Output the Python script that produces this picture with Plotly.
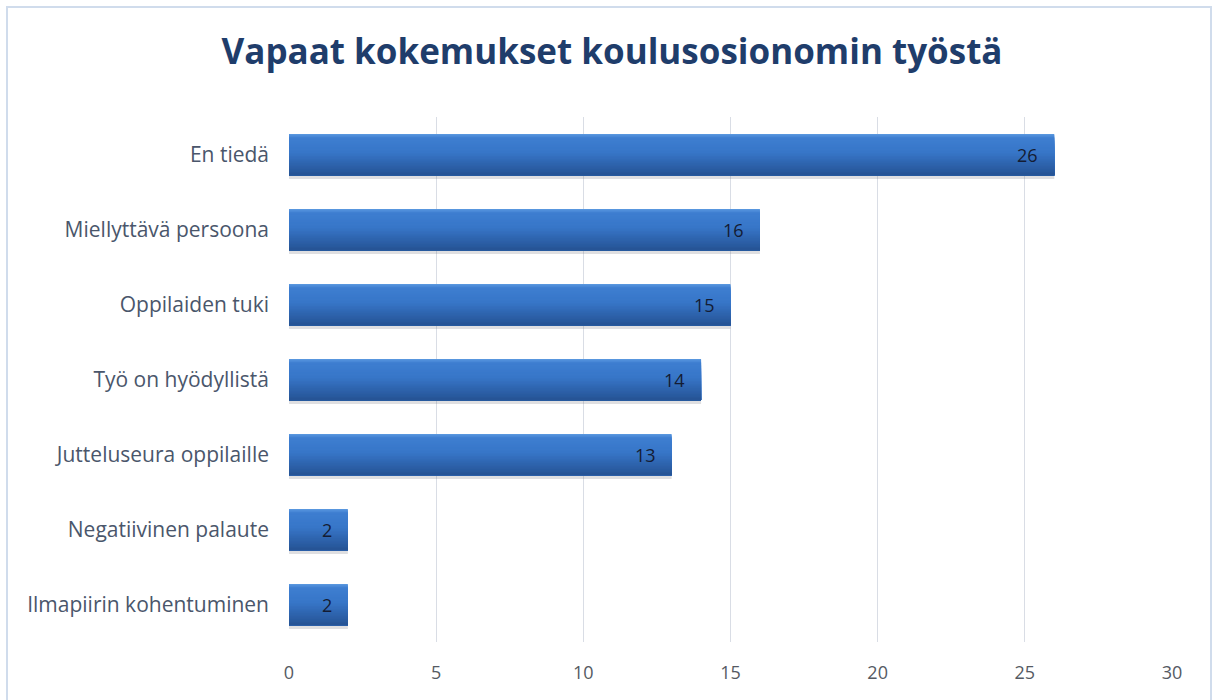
import plotly.graph_objects as go

categories = ["En tiedä", "Miellyttävä persoona", "Oppilaiden tuki", "Työ on hyödyllistä",
              "Jutteluseura oppilaille", "Negatiivinen palaute", "Ilmapiirin kohentuminen"]
values = [26, 16, 15, 14, 13, 2, 2]
title_text = "Vapaat kokemukset koulusosionomin työstä"
x_ticks = [0, 5, 10, 15, 20, 25, 30]

W, H = 1215, 700
L, R, T, B = 289, 43, 117, 58

fig = go.Figure()

bar_w = 0.55
# soft shadow under the bars
fig.add_trace(go.Bar(y=categories, x=values, orientation="h", width=bar_w, offset=-bar_w / 2 + 0.05,
                     marker=dict(color="rgba(110,110,120,0.22)", line=dict(width=0)),
                     hoverinfo="skip", showlegend=False))

# gradient made of overlapping strips (each covers to the bar's bottom edge)
stops = [(0.0, (88, 150, 222)), (0.08, (62, 126, 208)), (0.45, (55, 118, 200)), (1.0, (38, 84, 150))]


def grad(t):
    for (t0, c0), (t1, c1) in zip(stops[:-1], stops[1:]):
        if t <= t1:
            f = (t - t0) / (t1 - t0) if t1 > t0 else 0
            return tuple(int(round(c0[k] + (c1[k] - c0[k]) * f)) for k in range(3))
    return stops[-1][1]


n = 28
sw = bar_w / n
for i in range(n):
    c = grad(i / (n - 1))
    fig.add_trace(go.Bar(y=categories, x=values, orientation="h", width=bar_w - i * sw,
                         offset=-bar_w / 2 + i * sw,
                         marker=dict(color="rgb(%d,%d,%d)" % c, line=dict(width=0)),
                         hoverinfo="skip", showlegend=False))

# value labels placed at the end of each bar
for cat, v in zip(categories, values):
    fig.add_annotation(x=v, y=cat, xref="x", yref="y", text=str(v), showarrow=False,
                       xanchor="right", yanchor="middle", xshift=-14,
                       font=dict(family="Open Sans", size=18, color="#141c33"))

fig.update_layout(
    width=W, height=H,
    barmode="overlay",
    paper_bgcolor="white", plot_bgcolor="white",
    margin=dict(l=L, r=R, t=T, b=B, autoexpand=False),
    title=dict(text="<b>" + title_text + "</b>", x=612 / W, xref="container", xanchor="center",
               y=1 - 52 / H, yanchor="middle", yref="container", automargin=False,
               font=dict(family="Open Sans", size=35, color="#1f3d6b")),
    xaxis=dict(range=[0, 30], tickvals=x_ticks, showgrid=True, gridcolor="#d9dde5", gridwidth=1,
               zeroline=False, showline=False, ticks="", ticklabelstandoff=18, automargin=False,
               tickfont=dict(family="Open Sans", size=18, color="#555a63")),
    yaxis=dict(categoryorder="array", categoryarray=categories, autorange="reversed",
               showgrid=False, zeroline=False, showline=False, ticks="", ticklabelstandoff=19,
               automargin=False,
               tickfont=dict(family="Open Sans", size=21, color="#4a566b")),
)

# outer chart border
fig.add_shape(type="rect", xref="paper", yref="paper",
              x0=(7 - L) / (W - L - R), x1=(1211 - L) / (W - L - R),
              y0=(H - B - 703) / (H - T - B), y1=(H - B - 7) / (H - T - B),
              line=dict(color="#d0dcec", width=2), fillcolor="rgba(0,0,0,0)", layer="below")

fig.write_html("out.html", config={"displayModeBar": False},
               post_script="document.body.style.margin='0px';document.body.style.overflow='hidden';")
